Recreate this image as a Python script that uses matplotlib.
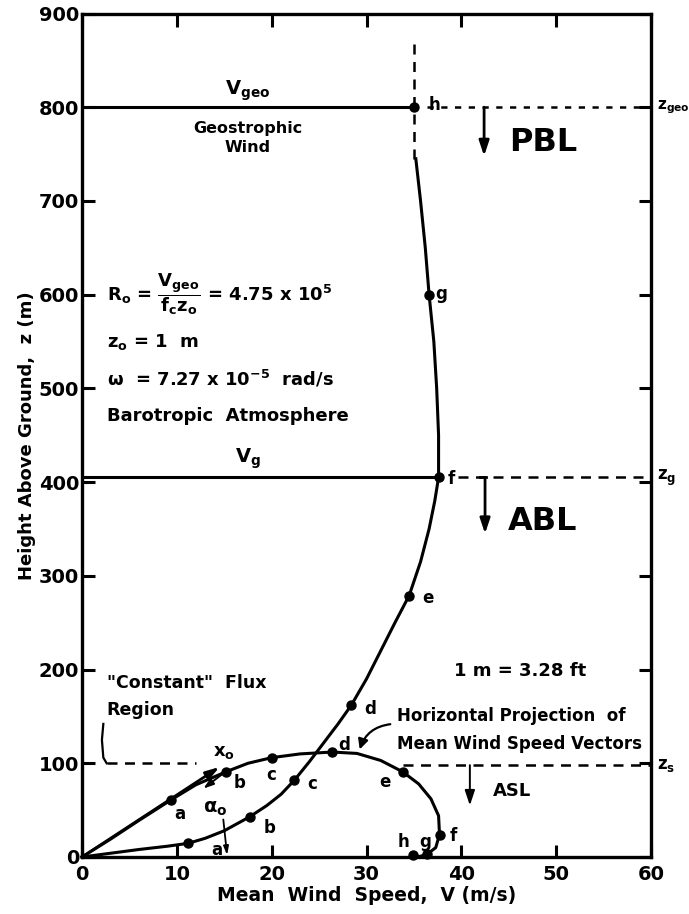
import matplotlib
matplotlib.use("Agg")
import matplotlib.pyplot as plt
from matplotlib.patches import FancyArrowPatch

plt.rcParams['font.family'] = ['DejaVu Sans']
plt.rcParams['font.weight'] = 'bold'
plt.rcParams['mathtext.default'] = 'bf'

# Mean wind speed profile V(z)
profile_v = [0, 3, 6, 9, 11.2, 13, 15, 17.7, 19.5, 21, 22.4, 24, 25.5, 27, 28.4,
             30, 31.5, 33, 34.5, 35.7, 36.6, 37.2, 37.6, 37.6, 37.4, 37.1, 36.6,
             36.2, 35.7, 35.2]
profile_z = [0, 4, 8, 11.5, 14.6, 20, 28, 43, 55, 67, 82, 102, 122, 142, 162,
             190, 220, 250, 279, 315, 350, 380, 405, 450, 500, 550, 600,
             650, 700, 745]

# Labelled heights on the profile
prof_pts_v = [11.2, 17.7, 22.4, 28.4, 34.5, 37.6, 36.6, 35.0]
prof_pts_z = [14.6, 43, 82, 162, 279, 405, 600, 800]
prof_lbl = ['a', 'b', 'c', 'd', 'e', 'f', 'g', 'h']
prof_lbl_v = [13.6, 19.1, 23.8, 29.8, 35.9, 38.6, 37.2, 36.5]
prof_lbl_z = [7, 31, 78, 158, 276, 403, 601, 802]

# Horizontal projection (hodograph) of mean wind speed vectors
hodo_v = [0, 3, 6, 9.4, 12, 15.2, 17.5, 20, 23, 26.4, 29, 31.5, 33.8, 35.5,
          36.8, 37.6, 37.7, 37.3, 36.4, 35.6, 34.9]
hodo_z = [0, 19, 39, 61, 77, 91, 100, 106, 110, 112, 110.5, 103, 91, 78,
          62, 44, 24, 10, 3, 0.5, 2]
hodo_pts_v = [9.4, 15.2, 20, 26.4, 33.8, 37.7, 36.4, 34.9]
hodo_pts_z = [61, 91, 106, 112, 91, 24, 3, 2]
hodo_lbl = ['a', 'b', 'c', 'd', 'e', 'f', 'g', 'h']
hodo_lbl_v = [10.3, 16.6, 20.0, 27.6, 31.9, 39.2, 36.2, 33.9]
hodo_lbl_z = [46, 79, 88, 120, 80, 22, 16, 16]

# Reference heights (m)
z_geo = 800
z_g = 405
z_s = 98
v_geo = 35.0
v_g = 37.6

x_ticks = [0, 10, 20, 30, 40, 50, 60]
y_ticks = [0, 100, 200, 300, 400, 500, 600, 700, 800, 900]

fig = plt.figure(figsize=(6.89, 9.14), dpi=100)
ax = fig.add_axes([82 / 689, (914 - 857) / 914, 569 / 689, 843.5 / 914])
ax.set_xlim(0, 60)
ax.set_ylim(0, 900)
ax.set_xticks(x_ticks)
ax.set_yticks(y_ticks)
ax.tick_params(direction='in', length=9, width=2.2, top=True, right=True,
               labelsize=14, pad=6)
ax.tick_params(axis='y', pad=2)
for s in ax.spines.values():
    s.set_linewidth(2.4)
ax.set_xlabel('Mean  Wind  Speed,  V (m/s)', fontsize=13.5, fontweight='bold',
              labelpad=1)
ax.set_ylabel('Height Above Ground,  z (m)', fontsize=13, fontweight='bold',
              labelpad=2)

lw = 2.2
# profile and hodograph
ax.plot(profile_v, profile_z, color='black', lw=lw, zorder=3, clip_on=False)
ax.plot(hodo_v, hodo_z, color='black', lw=lw, zorder=3, clip_on=False)
ax.plot(prof_pts_v, prof_pts_z, 'o', color='black', ms=6.5, zorder=4)
ax.plot(hodo_pts_v, hodo_pts_z, 'o', color='black', ms=6.5, zorder=4,
        clip_on=False)
for t, x, y in zip(prof_lbl, prof_lbl_v, prof_lbl_z):
    ax.text(x, y, t, fontsize=12, fontweight='bold', ha='left', va='center')
for t, x, y in zip(hodo_lbl, hodo_lbl_v, hodo_lbl_z):
    ax.text(x, y, t, fontsize=12, fontweight='bold', ha='center', va='center')

# geostrophic level continuation
ax.plot([v_geo, v_geo], [745, 875], color='black', lw=1.8, ls=(0, (4, 3)))
ax.plot([0, v_geo], [z_geo, z_geo], color='black', lw=lw)
ax.plot([0, v_g], [z_g, z_g], color='black', lw=lw)
ax.plot([36.4, 60], [z_geo, z_geo], color='black', lw=1.8, ls=(0, (2.5, 3)))
ax.plot([39.6, 60], [z_g, z_g], color='black', lw=1.8, ls=(0, (4, 3)))
ax.plot([33.8, 60], [z_s, z_s], color='black', lw=1.8, ls=(0, (4, 3)))
ax.plot([2.6, 12], [100, 100], color='black', lw=1.8, ls=(0, (4, 3)))

# region arrows
def down_arrow(x, y0, y1, w=2.0):
    ax.annotate('', xy=(x, y1), xytext=(x, y0),
                arrowprops=dict(arrowstyle='-|>,head_width=0.3,head_length=0.9',
                                color='black', lw=w, shrinkA=0, shrinkB=0))

down_arrow(42.4, z_geo, 748)
ax.plot([42.0, 42.6], [z_g, z_g], color='black', lw=2.0)
down_arrow(42.5, z_g, 345)
down_arrow(40.9, z_s, 55, w=1.4)

ax.text(48.6, 762, 'PBL', fontsize=23, fontweight='bold', ha='center',
        va='center')
ax.text(48.6, 358, 'ABL', fontsize=23, fontweight='bold', ha='center',
        va='center')
ax.text(45.3, 70, 'ASL', fontsize=13, fontweight='bold', ha='center',
        va='center')

# right-hand level labels
ax.text(60.6, z_geo, r'z$_{\mathbf{geo}}$', fontsize=11, ha='left',
        va='center', clip_on=False)
ax.text(60.6, z_g, r'z$_{\mathbf{g}}$', fontsize=12, ha='left', va='center',
        clip_on=False)
ax.text(60.6, z_s, r'z$_{\mathbf{s}}$', fontsize=12, ha='left', va='center',
        clip_on=False)

# labels above wind lines
ax.text(17.5, 818, r'V$_{\mathbf{geo}}$', fontsize=14, ha='center',
        va='center')
ax.text(17.5, 767, 'Geostrophic\nWind', fontsize=11.5, ha='center',
        va='center', linespacing=1.3)
ax.text(17.5, 425, r'V$_{\mathbf{g}}$', fontsize=14, ha='center', va='center')

# parameter block
ax.text(2.6, 600,
        r'R$_{\mathbf{o}}$ = $\dfrac{\mathbf{V_{geo}}}{\mathbf{f_c z_o}}$ = 4.75 x 10$^{\mathbf{5}}$',
        fontsize=13, ha='left', va='center')
ax.text(2.6, 549, r'z$_{\mathbf{o}}$ = 1  m', fontsize=13, ha='left',
        va='center')
ax.text(2.6, 510, r'$\mathbf{\omega}$  = 7.27 x 10$^{\mathbf{-5}}$  rad/s',
        fontsize=13, ha='left', va='center')
ax.text(2.6, 471, 'Barotropic  Atmosphere', fontsize=13, ha='left',
        va='center')

ax.text(46.2, 198, '1 m = 3.28 ft', fontsize=13, ha='center', va='center')

ax.text(2.6, 186, '"Constant"  Flux', fontsize=12.5, ha='left', va='center')
ax.text(2.6, 157, 'Region', fontsize=12.5, ha='left', va='center')
ax.plot([2.25, 2.1, 2.25, 2.6], [142, 125, 106, 100], color='black', lw=1.6)

ax.text(33.2, 150, 'Horizontal Projection  of', fontsize=12, ha='left',
        va='center')
ax.text(33.2, 121, 'Mean Wind Speed Vectors', fontsize=12, ha='left',
        va='center')
ax.add_patch(FancyArrowPatch((32.8, 142), (29.2, 112),
                             connectionstyle='arc3,rad=0.35',
                             arrowstyle='-|>,head_width=3,head_length=6',
                             color='black', lw=1.6))

# surface wind direction and angle
ax.annotate('', xy=(14.5, 96), xytext=(0, 0),
            arrowprops=dict(arrowstyle='-|>,head_width=0.25,head_length=0.8',
                            color='black', lw=2.0, shrinkA=0, shrinkB=0))
ax.text(15.0, 112, r'x$_{\mathbf{o}}$', fontsize=13, ha='center', va='center')
ax.annotate('', xy=(12.8, 73), xytext=(15.0, 90),
            arrowprops=dict(arrowstyle='-|>,head_width=0.2,head_length=0.6',
                            color='black', lw=1.4, shrinkA=0, shrinkB=0))
ax.text(14.0, 52, r'$\mathbf{\alpha}_{\mathbf{o}}$', fontsize=14, ha='center',
        va='center')
ax.annotate('', xy=(15.3, 2), xytext=(14.9, 40),
            arrowprops=dict(arrowstyle='-|>,head_width=0.15,head_length=0.5',
                            color='black', lw=1.3, shrinkA=0, shrinkB=0))

fig.savefig('out.png', dpi=100)
